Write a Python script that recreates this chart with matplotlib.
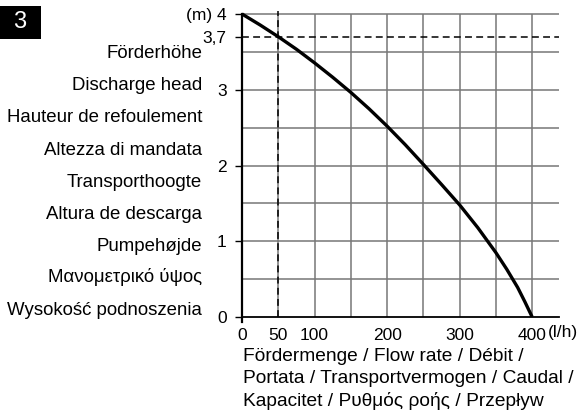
import matplotlib
matplotlib.use("Agg")
import matplotlib.pyplot as plt
from matplotlib.patches import Rectangle

plt.rcParams['font.family'] = ['Liberation Sans', 'DejaVu Sans']

# data
flow = [0, 25, 50, 75, 100, 125, 150, 175, 200, 225, 250, 275, 300, 325, 350, 365, 380, 390, 400]
head = [4.0, 3.855, 3.70, 3.535, 3.355, 3.165, 2.965, 2.75, 2.52, 2.275, 2.015, 1.75,
        1.48, 1.18, 0.85, 0.63, 0.39, 0.2, 0.0]
xticks = [0, 50, 100, 200, 300, 400]
xticklabels = ['0', '50', '100', '200', '300', '400']
yticks = [0, 1, 2, 3, 3.7, 4]
yticklabels = ['0', '1', '2', '3', '3,7', '(m) 4']
xgrid = [0, 50, 100, 150, 200, 250, 300, 350, 400]
ygrid = [0.5, 1, 1.5, 2, 2.5, 3, 3.5, 4]
op_flow, op_head = 50, 3.7
left_labels = ['Förderhöhe', 'Discharge head', 'Hauteur de refoulement',
               'Altezza di mandata', 'Transporthoogte', 'Altura de descarga',
               'Pumpehøjde', 'Μανομετρικό ύψος', 'Wysokość podnoszenia']
bottom_lines = ['Fördermenge / Flow rate / Débit /',
                'Portata / Transportvermogen / Caudal /',
                'Kapacitet / Ρυθμός ροής / Przepływ']

W, H = 584, 419
fig = plt.figure(figsize=(W / 100, H / 100), dpi=100)
x0, x1, y0, y1 = 242, 559, 317, 14
xmax = 437
ytop = 4.04
ppu = (y0 - y1) / 4.0
top_px = y0 - ppu * ytop
ax = fig.add_axes([x0 / W, 1 - y0 / H, (x1 - x0) / W, (y0 - top_px) / H])
ax.set_xlim(0, xmax)
ax.set_ylim(0, ytop)

gc = '#777777'
ax.vlines(xgrid[1:], 0, 4, colors=gc, lw=1.1, zorder=1)
ax.hlines(ygrid, 0, xmax, colors=gc, lw=1.1, zorder=1)

ax.axvline(op_flow, color='black', lw=1.1, ls=(0, (4.5, 2.8)), zorder=2)
ax.axhline(op_head, color='black', lw=1.1, ls=(0, (4.5, 2.8)), zorder=2)

ax.plot(flow, head, color='black', lw=2.4, solid_capstyle='butt',
        solid_joinstyle='round', zorder=3)

for s in ['top', 'right']:
    ax.spines[s].set_visible(False)
ax.spines['left'].set_linewidth(1.6)
ax.spines['left'].set_bounds(-0.06, 4)
ax.spines['bottom'].set_linewidth(1.3)
ax.spines['bottom'].set_position(('data', 0))

ax.set_xticks(xticks)
ax.set_xticklabels(xticklabels)
ax.set_yticks(yticks)
ax.set_yticklabels(yticklabels)
ax.tick_params(axis='y', length=5, width=1.0, pad=6, labelsize=12.5, direction='out')
ax.tick_params(axis='x', length=0, pad=8, labelsize=12.5)
ax.set_xticks([400], minor=True)
ax.tick_params(axis='x', which='minor', length=5, width=1.3, direction='out')

ax.annotate('(l/h)', xy=(400, 0), xycoords='data', xytext=(16, -8),
            textcoords='offset pixels', ha='left', va='top', fontsize=12.5)

for i, t in enumerate(left_labels):
    fig.text(202 / W, 1 - (58.5 + 32 * i) / H, t, ha='right', va='baseline', fontsize=13.4)

for i, t in enumerate(bottom_lines):
    fig.text(243 / W, 1 - (360.5 + 22.5 * i) / H, t, ha='left', va='baseline', fontsize=13.8)

fig.patches.append(Rectangle((0, 1 - 39 / H), 41 / W, 33 / H, transform=fig.transFigure,
                             facecolor='black', edgecolor='none'))
fig.text(20 / W, 1 - 22.5 / H, '3', color='white', ha='center', va='center', fontsize=17)

fig.savefig('out.png', dpi=100)
